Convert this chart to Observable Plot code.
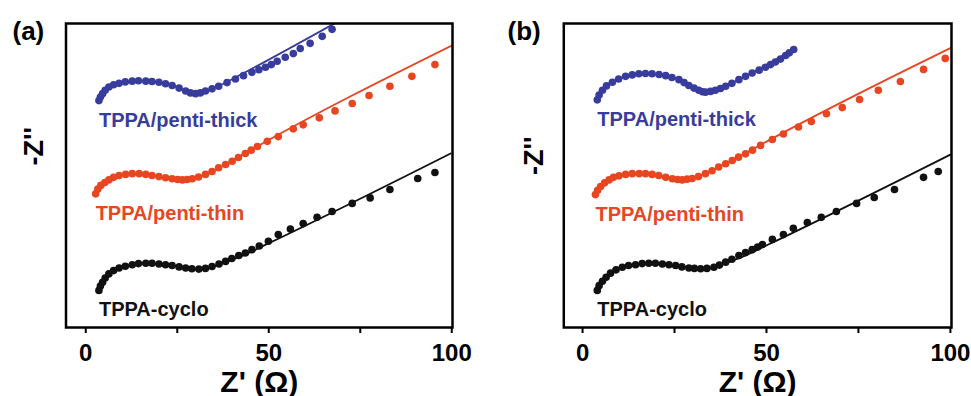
<!DOCTYPE html>
<html><head><meta charset="utf-8">
<script src="https://cdn.jsdelivr.net/npm/d3@7"></script>
<script src="https://cdn.jsdelivr.net/npm/@observablehq/plot@0.6"></script>
<style>
html,body{margin:0;padding:0;background:#fff;}
#wrap{position:relative;width:971px;height:396px;overflow:hidden;font-family:"Liberation Sans",Arial,sans-serif;}
#wrap svg{position:absolute;top:0;}
</style></head><body><div id="wrap"></div>
<script>
// ---- data (Z' in ohm, -Z'' in offset ohm units) ----
const seriesNames = ["TPPA/penti-thick", "TPPA/penti-thin", "TPPA-cyclo"];
const seriesColors = ["#383c9c", "#e84521", "#111111"];
const xTicks = [0, 25, 50, 75, 100];
const xLabel = "Z' (\u03A9)";
const yLabel = "-Z''";
const panelTags = ["(a)", "(b)"];

const thickA = [[3.6,62.1],[4.0,63.1],[4.6,64.0],[5.3,64.9],[6.3,65.8],[7.6,66.4],[9.1,66.8],[10.8,67.2],[12.7,67.4],[14.4,67.5],[16.4,67.4],[18.1,67.3],[20.0,67.1],[21.8,66.7],[23.6,66.2],[25.5,65.5],[27.3,64.7],[28.6,64.2],[30.0,64.0],[31.3,64.2],[32.7,64.7],[34.5,65.3],[36.3,66.0],[38.6,67.0],[40.9,68.0],[43.1,68.9],[45.4,69.8],[47.3,70.5],[49.1,71.2],[50.7,71.9],[52.3,72.8],[54.5,73.9],[56.7,74.9],[58.6,76.3],[61.3,77.7],[64.6,79.6],[67.3,81.5]];
const thickAFit = [[3.6,62.1],[5.3,64.9],[7.6,66.4],[10.8,67.2],[14.4,67.5],[18.1,67.3],[21.8,66.7],[25.5,65.5],[28.6,64.2],[30.5,64.0],[32.7,64.7],[36.3,66.1],[40.1,68.0],[44.1,70.1],[67.9,83.1]];
const thinA = [[2.7,36.7],[3.3,38.0],[4.1,39.0],[5.2,39.8],[6.3,40.5],[7.6,41.2],[9.1,41.7],[10.9,42.0],[12.7,42.2],[14.6,42.2],[16.4,42.0],[18.1,41.7],[20.0,41.4],[21.8,41.1],[23.6,40.8],[25.1,40.6],[26.4,40.5],[27.7,40.6],[29.1,40.8],[30.8,41.3],[32.7,42.0],[34.5,42.8],[36.3,43.8],[38.2,44.7],[40.0,45.6],[41.7,46.6],[43.6,47.7],[45.2,48.6],[46.9,49.6],[49.6,51.0],[52.6,52.3],[56.7,54.4],[59.4,55.5],[63.8,57.4],[68.1,59.3],[72.8,61.3],[77.4,63.5],[83.1,66.0],[89.1,68.7],[95.4,71.9]];
const thinAFit = [[2.7,36.7],[4.1,39.0],[6.3,40.5],[9.1,41.7],[12.7,42.2],[16.4,42.0],[20.0,41.4],[23.6,40.8],[26.4,40.5],[29.1,40.8],[32.7,42.0],[36.3,43.7],[40.1,45.8],[45.0,48.6],[100.0,77.1]];
const cycloA = [[3.6,10.4],[4.0,11.6],[4.6,12.6],[5.3,13.8],[6.3,14.9],[7.6,15.8],[9.1,16.5],[10.8,17.0],[12.7,17.4],[14.4,17.7],[16.4,17.8],[18.1,17.8],[20.0,17.6],[21.8,17.4],[23.6,17.2],[25.5,16.8],[27.3,16.5],[29.0,16.3],[30.9,16.2],[32.7,16.4],[34.5,16.9],[36.4,17.6],[38.2,18.3],[39.9,19.1],[41.8,19.9],[43.6,20.6],[45.4,21.5],[47.4,22.5],[49.9,23.8],[52.6,25.6],[55.9,27.1],[59.4,28.6],[63.2,30.3],[67.3,31.9],[72.8,34.1],[77.7,35.6],[83.1,37.9],[90.7,40.9],[95.4,42.5]];
const cycloAFit = [[3.6,10.4],[4.6,12.6],[6.3,14.9],[9.1,16.5],[12.7,17.4],[16.4,17.8],[20.0,17.6],[23.6,17.2],[27.3,16.5],[30.9,16.1],[34.5,16.8],[38.2,18.1],[42.2,19.6],[49.9,23.2],[99.7,47.7]];

const thickB = [[4.0,62.3],[4.5,63.6],[5.4,64.9],[6.5,66.1],[8.1,67.1],[9.8,68.0],[11.7,68.7],[13.5,69.1],[15.3,69.4],[17.1,69.5],[18.9,69.4],[20.8,69.2],[22.6,68.9],[24.3,68.4],[26.2,67.8],[27.6,67.0],[28.9,66.2],[30.3,65.5],[31.6,64.9],[32.6,64.5],[33.4,64.4],[34.8,64.6],[36.1,64.9],[37.5,65.4],[38.9,66.0],[40.6,66.8],[42.5,67.8],[44.3,68.7],[46.1,69.6],[48.0,70.4],[49.7,71.2],[51.1,71.9],[52.4,72.6],[53.8,73.4],[55.2,74.4],[56.2,75.1],[57.4,76.0]];
const thickBFit = [[4.0,62.3],[5.4,64.9],[8.1,67.1],[11.7,68.7],[15.3,69.4],[18.9,69.4],[22.6,68.9],[26.2,67.8],[29.3,65.9],[32.1,64.7],[34.0,64.4],[36.4,65.0],[39.4,66.2],[42.9,68.0],[57.4,76.0]];
const thinB = [[3.5,36.5],[4.1,37.7],[4.9,38.7],[6.0,39.7],[7.2,40.5],[8.4,41.2],[9.9,41.6],[11.7,42.0],[13.5,42.2],[15.4,42.2],[17.1,42.2],[18.9,42.0],[20.7,41.7],[22.6,41.2],[24.4,40.8],[25.8,40.6],[27.1,40.5],[28.4,40.7],[29.8,40.9],[31.5,41.4],[33.4,42.2],[35.2,43.0],[37.0,44.0],[38.9,44.9],[40.7,45.8],[42.4,46.7],[44.3,47.6],[46.2,48.6],[48.4,49.9],[51.6,51.5],[54.6,53.0],[58.7,54.9],[62.2,56.4],[66.3,58.5],[70.6,60.2],[75.3,62.4],[80.4,64.9],[86.4,67.3],[92.7,70.6],[98.6,73.6]];
const thinBFit = [[3.5,36.5],[4.9,38.7],[7.1,40.5],[9.9,41.6],[13.5,42.2],[17.1,42.2],[20.7,41.7],[24.4,40.8],[27.1,40.5],[29.8,40.9],[33.4,42.2],[37.0,44.0],[40.8,45.8],[45.6,48.5],[100.0,76.4]];
const cycloB = [[4.0,10.4],[4.5,11.7],[5.4,12.9],[6.4,14.0],[7.6,15.1],[9.1,16.0],[10.8,16.7],[12.5,17.2],[14.4,17.4],[16.2,17.7],[18.0,17.8],[19.8,17.8],[21.7,17.6],[23.5,17.4],[25.3,17.2],[27.0,16.8],[28.9,16.5],[30.4,16.4],[32.1,16.3],[33.8,16.4],[35.7,16.7],[37.2,17.3],[38.9,18.1],[40.6,18.9],[42.5,19.9],[44.3,20.7],[46.1,21.5],[47.6,22.2],[48.9,22.9],[51.6,24.3],[54.6,25.6],[57.3,27.3],[61.1,28.9],[64.9,30.3],[69.0,31.9],[74.5,34.1],[79.3,35.7],[84.8,37.9],[92.7,41.2],[96.7,42.8]];
const cycloBFit = [[4.0,10.4],[5.4,12.9],[7.6,15.1],[10.8,16.7],[14.4,17.4],[18.0,17.8],[21.7,17.6],[25.3,17.2],[28.9,16.5],[32.1,16.2],[35.7,16.6],[38.9,17.8],[42.9,19.3],[50.5,22.9],[100.0,47.4]];

// ---- drawing ----
const FONT = '"Liberation Sans", Arial, Helvetica, sans-serif';
const wrap = document.getElementById("wrap");
const rows = (pts, name) => pts.map(([x, y]) => ({x, y, name}));

function panel(cfg) {
  const dots = seriesNames.flatMap((n, i) => rows(cfg.pts[i], n));
  const fits = seriesNames.flatMap((n, i) => rows(cfg.fits[i], n));
  const labels = seriesNames.map((n, i) => ({x: cfg.pts[i][0][0], y: cfg.pts[i][0][1], name: n}));
  const plot = Plot.plot({
    width: cfg.width, height: 396,
    marginLeft: cfg.ml, marginRight: cfg.mr, marginTop: 23, marginBottom: 69,
    style: {background: "transparent", fontFamily: FONT, color: "#000"},
    x: {domain: cfg.xDomain},
    y: {domain: [0.3, 83.1], axis: null},
    color: {domain: seriesNames, range: seriesColors},
    marks: [
      Plot.line(fits, {x: "x", y: "y", z: "name", stroke: "name", strokeWidth: 1.8, curve: "monotone-x", clip: true}),
      Plot.dot(dots, {x: "x", y: "y", fill: "name", r: 3.8}),
      Plot.text(labels, {x: "x", y: "y", text: "name", fill: "name", dy: 26, textAnchor: "start", lineAnchor: "bottom", fontSize: 20, fontWeight: "bold"}),
      Plot.frame({stroke: "#000", strokeWidth: 2.5}),
      Plot.axisX({ticks: xTicks, tickFormat: d => (d % 50 === 0 ? String(d) : ""), tickSize: 6, tickPadding: 10, fontSize: 24, fontWeight: "bold", strokeWidth: 2, label: null}),
      Plot.text([xLabel], {frameAnchor: "bottom", text: d => d, dy: 64, lineAnchor: "bottom", fontSize: 30, fontWeight: "bold"}),
      Plot.text([yLabel], {frameAnchor: "left", text: d => d, rotate: -90, dx: cfg.ylDx, dy: cfg.ylDy, fontSize: 27, fontWeight: "bold"}),
      Plot.text([cfg.tag], {frameAnchor: "top-left", text: d => d, dx: cfg.tagDx, dy: 16, textAnchor: "start", lineAnchor: "bottom", fontSize: 26, fontWeight: "bold"})
    ]
  });
  plot.style.left = cfg.left + "px";
  wrap.append(plot);
}

panel({tag: panelTags[0], pts: [thickA, thinA, cycloA], fits: [thickAFit, thinAFit, cycloAFit],
  left: 0, width: 480, ml: 65.5, mr: 28, xDomain: [-5.4, 100.2], ylDx: -31.5, ylDy: -10, tagDx: -53.5});
panel({tag: panelTags[1], pts: [thickB, thinB, cycloB], fits: [thickBFit, thinBFit, cycloBFit],
  left: 490, width: 481, ml: 73.3, mr: 20, xDomain: [-5.1, 100.3], ylDx: -29.8, ylDy: -0.5, tagDx: -56.3});
</script></body></html>
